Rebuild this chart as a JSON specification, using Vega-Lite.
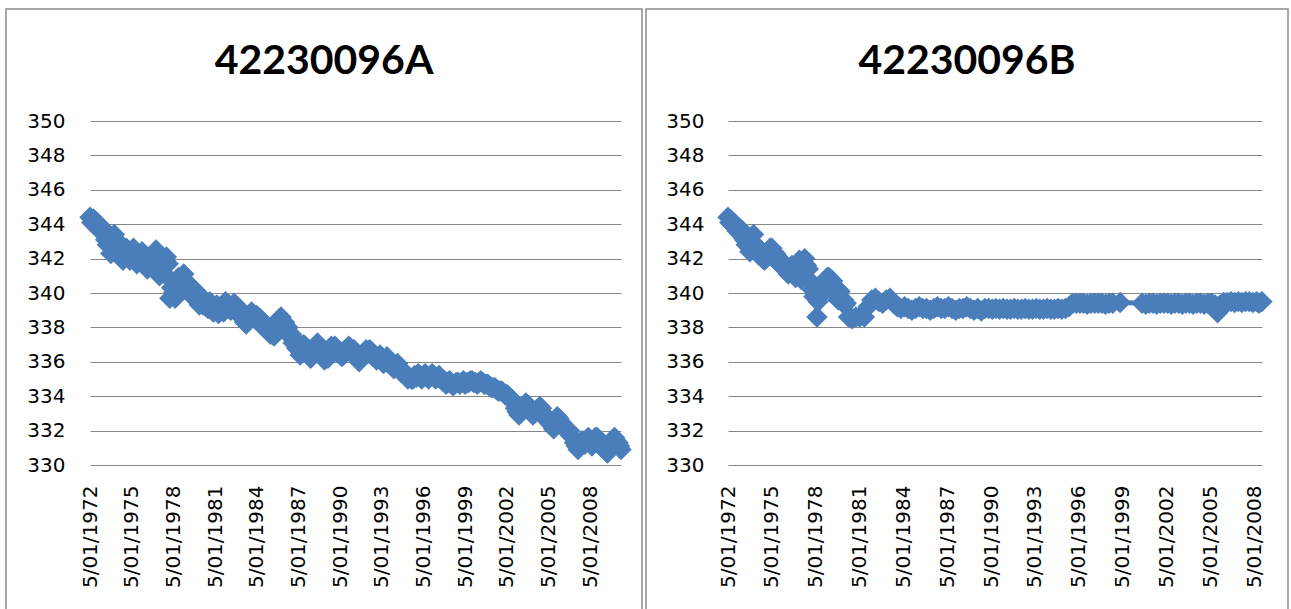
{
  "$schema": "https://vega.github.io/schema/vega-lite/v6.json",
  "padding": {"left": 5, "top": 8, "right": 0, "bottom": 0},
  "background": "white",
  "spacing": 2,
  "config": {
    "view": {"stroke": "#8c8c8c", "strokeWidth": 1.5},
    "axis": {"gridColor": "#878787", "gridWidth": 1.2, "gridOpacity": 1, "domain": false, "ticks": false, "tickSize": 0, "labelColor": "#000000", "labelFont": "DejaVu Sans", "labelFontSize": 20, "title": null, "labelOverlap": false, "labelFlush": false, "labelBound": false}
  },
  "datasets": {
    "a": [
      {"date":"1972-01-05","level":344.4},{"date":"1972-02-20","level":344.1},{"date":"1972-04-05","level":344.3},{"date":"1972-05-20","level":344.0},
      {"date":"1972-07-05","level":344.1},{"date":"1972-08-20","level":343.7},{"date":"1972-10-05","level":343.9},{"date":"1972-11-20","level":343.5},
      {"date":"1973-01-05","level":343.7},{"date":"1973-02-20","level":343.1},{"date":"1973-04-05","level":342.8},{"date":"1973-05-20","level":343.2},
      {"date":"1973-07-05","level":342.3},{"date":"1973-08-20","level":342.9},{"date":"1973-10-05","level":343.4},{"date":"1973-11-20","level":342.7},
      {"date":"1974-01-05","level":342.6},{"date":"1974-02-20","level":342.9},{"date":"1974-04-05","level":342.3},{"date":"1974-05-20","level":341.9},
      {"date":"1974-07-05","level":342.1},{"date":"1974-08-20","level":342.6},{"date":"1974-10-05","level":342.4},{"date":"1974-11-20","level":341.9},
      {"date":"1975-01-05","level":342.3},{"date":"1975-02-20","level":342.6},{"date":"1975-04-05","level":342.0},{"date":"1975-05-20","level":341.7},
      {"date":"1975-07-05","level":341.9},{"date":"1975-08-20","level":342.3},{"date":"1975-10-05","level":342.4},{"date":"1975-11-20","level":341.8},
      {"date":"1976-01-05","level":341.9},{"date":"1976-02-20","level":341.4},{"date":"1976-04-05","level":341.6},{"date":"1976-05-20","level":342.0},
      {"date":"1976-07-05","level":341.9},{"date":"1976-08-20","level":342.3},{"date":"1976-10-05","level":342.5},{"date":"1976-11-20","level":341.6},
      {"date":"1977-01-05","level":341.0},{"date":"1977-02-20","level":341.2},{"date":"1977-04-05","level":341.6},{"date":"1977-05-20","level":341.1},
      {"date":"1977-07-05","level":342.1},{"date":"1977-08-20","level":341.7},{"date":"1977-10-05","level":339.7},{"date":"1977-11-20","level":340.3},
      {"date":"1978-01-05","level":340.0},{"date":"1978-02-20","level":339.7},{"date":"1978-04-05","level":340.3},{"date":"1978-05-20","level":340.9},
      {"date":"1978-07-05","level":340.8},{"date":"1978-08-20","level":340.2},{"date":"1978-10-05","level":341.1},{"date":"1978-11-20","level":340.7},
      {"date":"1979-01-05","level":340.6},{"date":"1979-02-20","level":340.1},{"date":"1979-04-05","level":340.4},{"date":"1979-05-20","level":339.8},
      {"date":"1979-07-05","level":339.8},{"date":"1979-08-20","level":340.1},{"date":"1979-10-05","level":339.5},{"date":"1979-11-20","level":339.3},
      {"date":"1980-01-05","level":339.8},{"date":"1980-02-20","level":339.3},{"date":"1980-04-05","level":339.5},{"date":"1980-05-20","level":339.2},
      {"date":"1980-07-05","level":339.1},{"date":"1980-08-20","level":339.5},{"date":"1980-10-05","level":339.3},{"date":"1980-11-20","level":338.9},
      {"date":"1981-01-05","level":339.0},{"date":"1981-02-20","level":339.3},{"date":"1981-04-05","level":338.8},{"date":"1981-05-20","level":339.0},
      {"date":"1981-07-05","level":339.2},{"date":"1981-08-20","level":338.9},{"date":"1981-10-05","level":339.5},{"date":"1981-11-20","level":339.2},
      {"date":"1982-01-05","level":339.3},{"date":"1982-02-20","level":339.0},{"date":"1982-04-05","level":339.2},{"date":"1982-05-20","level":339.4},
      {"date":"1982-07-05","level":339.0},{"date":"1982-08-20","level":338.8},{"date":"1982-10-05","level":339.1},{"date":"1982-11-20","level":338.9},
      {"date":"1983-01-05","level":338.6},{"date":"1983-02-20","level":338.3},{"date":"1983-04-05","level":338.2},{"date":"1983-05-20","level":338.5},
      {"date":"1983-07-05","level":338.6},{"date":"1983-08-20","level":338.9},{"date":"1983-10-05","level":338.8},{"date":"1983-11-20","level":338.5},
      {"date":"1984-01-05","level":338.7},{"date":"1984-02-20","level":338.4},{"date":"1984-04-05","level":338.5},{"date":"1984-05-20","level":338.1},
      {"date":"1984-07-05","level":338.3},{"date":"1984-08-20","level":337.9},{"date":"1984-10-05","level":338.0},{"date":"1984-11-20","level":337.7},
      {"date":"1985-01-05","level":337.6},{"date":"1985-02-20","level":337.9},{"date":"1985-04-05","level":337.5},{"date":"1985-05-20","level":337.9},
      {"date":"1985-07-05","level":338.2},{"date":"1985-08-20","level":338.5},{"date":"1985-10-05","level":338.6},{"date":"1985-11-20","level":338.1},
      {"date":"1986-01-05","level":338.3},{"date":"1986-02-20","level":337.9},{"date":"1986-04-05","level":338.0},{"date":"1986-05-20","level":337.5},
      {"date":"1986-07-05","level":337.6},{"date":"1986-08-20","level":337.1},{"date":"1986-10-05","level":337.3},{"date":"1986-11-20","level":336.8},
      {"date":"1987-01-05","level":336.7},{"date":"1987-02-20","level":336.4},{"date":"1987-04-05","level":336.6},{"date":"1987-05-20","level":337.0},
      {"date":"1987-07-05","level":336.9},{"date":"1987-08-20","level":336.5},{"date":"1987-10-05","level":336.7},{"date":"1987-11-20","level":336.2},
      {"date":"1988-01-05","level":336.3},{"date":"1988-02-20","level":336.6},{"date":"1988-04-05","level":336.9},{"date":"1988-05-20","level":337.1},
      {"date":"1988-07-05","level":336.8},{"date":"1988-08-20","level":336.4},{"date":"1988-10-05","level":336.5},{"date":"1988-11-20","level":336.1},
      {"date":"1989-01-05","level":336.3},{"date":"1989-02-20","level":336.2},{"date":"1989-04-05","level":336.5},{"date":"1989-05-20","level":336.9},
      {"date":"1989-07-05","level":336.7},{"date":"1989-08-20","level":336.9},{"date":"1989-10-05","level":336.8},{"date":"1989-11-20","level":336.5},
      {"date":"1990-01-05","level":336.6},{"date":"1990-02-20","level":336.3},{"date":"1990-04-05","level":336.4},{"date":"1990-05-20","level":336.7},
      {"date":"1990-07-05","level":336.7},{"date":"1990-08-20","level":336.9},{"date":"1990-10-05","level":336.8},{"date":"1990-11-20","level":336.5},
      {"date":"1991-01-05","level":336.7},{"date":"1991-02-20","level":336.5},{"date":"1991-04-05","level":336.3},{"date":"1991-05-20","level":336.0},
      {"date":"1991-07-05","level":336.2},{"date":"1991-08-20","level":336.4},{"date":"1991-10-05","level":336.4},{"date":"1991-11-20","level":336.7},
      {"date":"1992-01-05","level":336.5},{"date":"1992-02-20","level":336.7},{"date":"1992-04-05","level":336.6},{"date":"1992-05-20","level":336.3},
      {"date":"1992-07-05","level":336.4},{"date":"1992-08-20","level":336.1},{"date":"1992-10-05","level":336.3},{"date":"1992-11-20","level":336.4},
      {"date":"1993-01-05","level":336.2},{"date":"1993-02-20","level":335.9},{"date":"1993-04-05","level":336.1},{"date":"1993-05-20","level":336.3},
      {"date":"1993-07-05","level":336.0},{"date":"1993-08-20","level":335.8},{"date":"1993-10-05","level":335.9},{"date":"1993-11-20","level":335.6},
      {"date":"1994-01-05","level":335.8},{"date":"1994-02-20","level":335.9},{"date":"1994-04-05","level":335.7},{"date":"1994-05-20","level":335.4},
      {"date":"1994-07-05","level":335.5},{"date":"1994-08-20","level":335.3},{"date":"1994-10-05","level":335.2},{"date":"1994-11-20","level":335.0},
      {"date":"1995-01-05","level":335.1},{"date":"1995-02-20","level":335.0},{"date":"1995-04-05","level":335.0},{"date":"1995-05-20","level":335.2},
      {"date":"1995-07-05","level":335.1},{"date":"1995-08-20","level":335.3},{"date":"1995-10-05","level":335.2},{"date":"1995-11-20","level":335.0},
      {"date":"1996-01-05","level":335.2},{"date":"1996-02-20","level":335.3},{"date":"1996-04-05","level":335.1},{"date":"1996-05-20","level":335.0},
      {"date":"1996-07-05","level":335.2},{"date":"1996-08-20","level":335.3},{"date":"1996-10-05","level":335.2},{"date":"1996-11-20","level":335.0},
      {"date":"1997-01-05","level":335.1},{"date":"1997-02-20","level":335.2},{"date":"1997-04-05","level":335.0},{"date":"1997-05-20","level":334.9},
      {"date":"1997-07-05","level":334.9},{"date":"1997-08-20","level":334.7},{"date":"1997-10-05","level":334.8},{"date":"1997-11-20","level":334.9},
      {"date":"1998-01-05","level":334.8},{"date":"1998-02-20","level":334.6},{"date":"1998-04-05","level":334.7},{"date":"1998-05-20","level":334.8},
      {"date":"1998-07-05","level":334.8},{"date":"1998-08-20","level":334.7},{"date":"1998-10-05","level":334.8},{"date":"1998-11-20","level":334.9},
      {"date":"1999-01-05","level":334.7},{"date":"1999-02-20","level":334.8},{"date":"1999-04-05","level":334.8},{"date":"1999-05-20","level":334.9},
      {"date":"1999-07-05","level":334.9},{"date":"1999-08-20","level":334.8},{"date":"1999-10-05","level":334.8},{"date":"1999-11-20","level":334.7},
      {"date":"2000-01-05","level":334.8},{"date":"2000-02-20","level":334.9},{"date":"2000-04-05","level":334.8},{"date":"2000-05-20","level":334.7},
      {"date":"2000-07-05","level":334.7},{"date":"2000-08-20","level":334.7},{"date":"2000-10-05","level":334.6},{"date":"2000-11-20","level":334.5},
      {"date":"2001-01-05","level":334.5},{"date":"2001-02-20","level":334.5},{"date":"2001-04-05","level":334.4},{"date":"2001-05-20","level":334.3},
      {"date":"2001-07-05","level":334.3},{"date":"2001-08-20","level":334.3},{"date":"2001-10-05","level":334.2},{"date":"2001-11-20","level":334.1},
      {"date":"2002-01-05","level":334.1},{"date":"2002-02-20","level":334.0},{"date":"2002-04-05","level":333.9},{"date":"2002-05-20","level":333.8},
      {"date":"2002-07-05","level":333.6},{"date":"2002-08-20","level":333.3},{"date":"2002-10-05","level":333.1},{"date":"2002-11-20","level":332.9},
      {"date":"2003-01-05","level":333.0},{"date":"2003-02-20","level":333.3},{"date":"2003-04-05","level":333.4},{"date":"2003-05-20","level":333.6},
      {"date":"2003-07-05","level":333.5},{"date":"2003-08-20","level":333.2},{"date":"2003-10-05","level":333.2},{"date":"2003-11-20","level":332.9},
      {"date":"2004-01-05","level":333.0},{"date":"2004-02-20","level":333.2},{"date":"2004-04-05","level":333.2},{"date":"2004-05-20","level":333.4},
      {"date":"2004-07-05","level":333.3},{"date":"2004-08-20","level":332.9},{"date":"2004-10-05","level":332.9},{"date":"2004-11-20","level":332.6},
      {"date":"2005-01-05","level":332.6},{"date":"2005-02-20","level":332.4},{"date":"2005-04-05","level":332.3},{"date":"2005-05-20","level":332.1},
      {"date":"2005-07-05","level":332.5},{"date":"2005-08-20","level":332.8},{"date":"2005-10-05","level":332.7},{"date":"2005-11-20","level":332.5},
      {"date":"2006-01-05","level":332.4},{"date":"2006-02-20","level":332.2},{"date":"2006-04-05","level":332.1},{"date":"2006-05-20","level":331.9},
      {"date":"2006-07-05","level":332.0},{"date":"2006-08-20","level":331.7},{"date":"2006-10-05","level":331.6},{"date":"2006-11-20","level":331.3},
      {"date":"2007-01-05","level":331.1},{"date":"2007-02-20","level":330.9},{"date":"2007-04-05","level":331.2},{"date":"2007-05-20","level":331.4},
      {"date":"2007-07-05","level":331.4},{"date":"2007-08-20","level":331.2},{"date":"2007-10-05","level":331.5},{"date":"2007-11-20","level":331.6},
      {"date":"2008-01-05","level":331.3},{"date":"2008-02-20","level":331.1},{"date":"2008-04-05","level":331.4},{"date":"2008-05-20","level":331.6},
      {"date":"2008-07-05","level":331.6},{"date":"2008-08-20","level":331.3},{"date":"2008-10-05","level":331.4},{"date":"2008-11-20","level":331.0},
      {"date":"2009-01-05","level":331.1},{"date":"2009-02-20","level":330.8},{"date":"2009-04-05","level":330.7},{"date":"2009-05-20","level":331.0},
      {"date":"2009-07-05","level":331.2},{"date":"2009-08-20","level":331.5},{"date":"2009-10-05","level":331.6},{"date":"2009-11-20","level":331.4},
      {"date":"2010-01-05","level":331.3},{"date":"2010-02-15","level":331.1},{"date":"2010-03-25","level":330.9}
    ],
    "b": [
      {"date":"1972-01-05","level":344.4},{"date":"1972-02-20","level":344.1},{"date":"1972-04-05","level":344.2},{"date":"1972-05-20","level":343.9},
      {"date":"1972-07-05","level":344.0},{"date":"1972-08-20","level":343.6},{"date":"1972-10-05","level":343.8},{"date":"1972-11-20","level":343.4},
      {"date":"1973-01-05","level":343.6},{"date":"1973-02-20","level":343.1},{"date":"1973-04-05","level":342.8},{"date":"1973-05-20","level":343.2},
      {"date":"1973-07-05","level":342.4},{"date":"1973-08-20","level":342.9},{"date":"1973-10-05","level":343.4},{"date":"1973-11-20","level":342.8},
      {"date":"1974-01-05","level":342.7},{"date":"1974-02-20","level":342.2},{"date":"1974-04-05","level":342.4},{"date":"1974-05-20","level":342.0},
      {"date":"1974-07-05","level":341.9},{"date":"1974-08-20","level":342.3},{"date":"1974-10-05","level":342.2},{"date":"1974-11-20","level":342.6},
      {"date":"1975-01-05","level":342.6},{"date":"1975-02-20","level":342.1},{"date":"1975-04-05","level":342.3},{"date":"1975-05-20","level":341.8},
      {"date":"1975-07-05","level":342.0},{"date":"1975-08-20","level":341.6},{"date":"1975-10-05","level":341.8},{"date":"1975-11-20","level":341.4},
      {"date":"1976-01-05","level":341.5},{"date":"1976-02-20","level":341.1},{"date":"1976-04-05","level":341.3},{"date":"1976-05-20","level":341.6},
      {"date":"1976-07-05","level":341.2},{"date":"1976-08-20","level":340.9},{"date":"1976-10-05","level":341.5},{"date":"1976-11-20","level":341.9},
      {"date":"1977-01-05","level":340.8},{"date":"1977-02-20","level":341.3},{"date":"1977-04-05","level":342.0},{"date":"1977-05-20","level":341.6},
      {"date":"1977-07-05","level":341.4},{"date":"1977-08-20","level":340.7},{"date":"1977-10-05","level":340.2},{"date":"1977-11-20","level":339.8},
      {"date":"1978-01-05","level":340.0},{"date":"1978-02-05","level":338.6},{"date":"1978-03-05","level":339.5},{"date":"1978-04-20","level":340.2},
      {"date":"1978-06-05","level":339.9},{"date":"1978-07-20","level":340.6},{"date":"1978-09-05","level":340.4},{"date":"1978-10-20","level":340.9},
      {"date":"1978-12-05","level":340.9},{"date":"1979-01-20","level":340.4},{"date":"1979-03-05","level":340.7},{"date":"1979-04-20","level":340.0},
      {"date":"1979-06-05","level":340.2},{"date":"1979-07-20","level":339.6},{"date":"1979-09-05","level":340.1},{"date":"1979-10-20","level":339.5},
      {"date":"1979-12-05","level":339.6},{"date":"1980-01-05","level":339.3},{"date":"1980-02-05","level":339.4},{"date":"1980-04-05","level":338.6},
      {"date":"1980-07-05","level":338.5},{"date":"1980-10-05","level":338.6},{"date":"1981-01-05","level":338.6},{"date":"1981-05-05","level":338.6},
      {"date":"1981-08-05","level":339.2},{"date":"1981-11-05","level":339.6},{"date":"1982-02-05","level":339.7},{"date":"1982-05-05","level":339.5},
      {"date":"1982-08-05","level":339.4},{"date":"1982-11-05","level":339.6},{"date":"1983-02-05","level":339.7},{"date":"1983-05-05","level":339.4},
      {"date":"1983-08-05","level":339.2},{"date":"1983-11-05","level":339.1},{"date":"1984-02-05","level":339.2},{"date":"1984-05-05","level":339.1},
      {"date":"1984-08-05","level":339.0},{"date":"1984-11-05","level":339.1},{"date":"1985-02-05","level":339.2},{"date":"1985-05-05","level":339.1},
      {"date":"1985-08-05","level":339.1},{"date":"1985-11-05","level":339.0},{"date":"1986-02-05","level":339.1},{"date":"1986-05-05","level":339.2},
      {"date":"1986-08-05","level":339.1},{"date":"1986-11-05","level":339.1},{"date":"1987-02-05","level":339.2},{"date":"1987-05-05","level":339.1},
      {"date":"1987-08-05","level":339.0},{"date":"1987-11-05","level":339.1},{"date":"1988-02-05","level":339.1},{"date":"1988-05-05","level":339.2},
      {"date":"1988-08-05","level":339.1},{"date":"1988-11-05","level":339.0},{"date":"1989-02-05","level":339.1},{"date":"1989-05-05","level":338.95},
      {"date":"1989-08-05","level":339.1},{"date":"1989-11-05","level":339.1},{"date":"1990-02-05","level":339.05},{"date":"1990-05-05","level":339.1},
      {"date":"1990-08-05","level":339.05},{"date":"1990-11-05","level":339.1},{"date":"1991-02-05","level":339.05},{"date":"1991-05-05","level":339.05},
      {"date":"1991-08-05","level":339.1},{"date":"1991-11-05","level":339.05},{"date":"1992-02-05","level":339.05},{"date":"1992-05-05","level":339.1},
      {"date":"1992-08-05","level":339.05},{"date":"1992-11-05","level":339.05},{"date":"1993-02-05","level":339.1},{"date":"1993-05-05","level":339.05},
      {"date":"1993-08-05","level":339.05},{"date":"1993-11-05","level":339.1},{"date":"1994-02-05","level":339.05},{"date":"1994-05-05","level":339.05},
      {"date":"1994-08-05","level":339.1},{"date":"1994-11-05","level":339.05},{"date":"1995-02-05","level":339.1},{"date":"1995-05-05","level":339.2},
      {"date":"1995-08-05","level":339.4},{"date":"1995-11-05","level":339.4},{"date":"1996-02-05","level":339.4},{"date":"1996-05-05","level":339.4},
      {"date":"1996-08-05","level":339.35},{"date":"1996-11-05","level":339.4},{"date":"1997-02-05","level":339.4},{"date":"1997-05-05","level":339.4},
      {"date":"1997-08-05","level":339.4},{"date":"1997-11-05","level":339.35},{"date":"1998-02-05","level":339.4},{"date":"1998-05-05","level":339.4},
      {"date":"1998-11-05","level":339.45},{"date":"2000-05-05","level":339.4},{"date":"2000-08-05","level":339.35},{"date":"2000-11-05","level":339.4},
      {"date":"2001-02-05","level":339.4},{"date":"2001-05-05","level":339.35},{"date":"2001-08-05","level":339.4},{"date":"2001-11-05","level":339.4},
      {"date":"2002-02-05","level":339.4},{"date":"2002-05-05","level":339.35},{"date":"2002-08-05","level":339.4},{"date":"2002-11-05","level":339.4},
      {"date":"2003-02-05","level":339.35},{"date":"2003-05-05","level":339.4},{"date":"2003-08-05","level":339.4},{"date":"2003-11-05","level":339.35},
      {"date":"2004-02-05","level":339.4},{"date":"2004-05-05","level":339.4},{"date":"2004-08-05","level":339.35},{"date":"2004-11-05","level":339.4},
      {"date":"2005-02-05","level":339.4},{"date":"2005-05-05","level":339.3},{"date":"2005-07-05","level":338.85},{"date":"2005-09-05","level":339.3},
      {"date":"2005-12-05","level":339.45},{"date":"2006-03-05","level":339.45},{"date":"2006-06-05","level":339.5},{"date":"2006-09-05","level":339.45},
      {"date":"2006-12-05","level":339.5},{"date":"2007-03-05","level":339.45},{"date":"2007-06-05","level":339.5},{"date":"2007-09-05","level":339.5},
      {"date":"2007-12-05","level":339.45},{"date":"2008-03-05","level":339.5},{"date":"2008-05-05","level":339.4},{"date":"2008-07-20","level":339.5}
    ]
  },
  "hconcat": [
    {
      "width": 636,
      "height": 640,
      "title": {"text": "42230096A", "font": "Lato", "fontWeight": "bold", "fontSize": 41, "color": "#000000", "anchor": "middle", "frame": "group", "offset": -106, "baseline": "alphabetic"},
      "data": {"name": "a"},
      "mark": {"type": "line", "color": "#4A7EBB", "strokeWidth": 5, "point": {"filled": true, "shape": "diamond", "size": 460, "color": "#4A7EBB", "opacity": 1}},
      "encoding": {
        "x": {"field": "date", "type": "temporal",
          "scale": {"type": "utc", "nice": false, "range": [84, 615]},
          "axis": {"offset": -184, "labelAngle": -90, "labelPadding": 20, "format": "%-d/%m/%Y", "grid": false,
            "values": [{"year":1972,"month":1,"date":5,"utc":true},{"year":1975,"month":1,"date":5,"utc":true},{"year":1978,"month":1,"date":5,"utc":true},{"year":1981,"month":1,"date":5,"utc":true},{"year":1984,"month":1,"date":5,"utc":true},{"year":1987,"month":1,"date":5,"utc":true},{"year":1990,"month":1,"date":5,"utc":true},{"year":1993,"month":1,"date":5,"utc":true},{"year":1996,"month":1,"date":5,"utc":true},{"year":1999,"month":1,"date":5,"utc":true},{"year":2002,"month":1,"date":5,"utc":true},{"year":2005,"month":1,"date":5,"utc":true},{"year":2008,"month":1,"date":5,"utc":true}]}},
        "y": {"field": "level", "type": "quantitative",
          "scale": {"domain": [330, 350], "nice": false, "zero": false, "range": [456, 112]},
          "axis": {"offset": -84, "labelPadding": 25, "grid": true, "values": [330,332,334,336,338,340,342,344,346,348,350]}}
      }
    },
    {
      "width": 642,
      "height": 640,
      "title": {"text": "42230096B", "font": "Lato", "fontWeight": "bold", "fontSize": 41, "color": "#000000", "anchor": "middle", "frame": "group", "offset": -106, "baseline": "alphabetic"},
      "data": {"name": "b"},
      "mark": {"type": "line", "color": "#4A7EBB", "strokeWidth": 5, "point": {"filled": true, "shape": "diamond", "size": 460, "color": "#4A7EBB", "opacity": 1}},
      "encoding": {
        "x": {"field": "date", "type": "temporal",
          "scale": {"type": "utc", "nice": false, "range": [82, 616]},
          "axis": {"offset": -184, "labelAngle": -90, "labelPadding": 20, "format": "%-d/%m/%Y", "grid": false,
            "values": [{"year":1972,"month":1,"date":5,"utc":true},{"year":1975,"month":1,"date":5,"utc":true},{"year":1978,"month":1,"date":5,"utc":true},{"year":1981,"month":1,"date":5,"utc":true},{"year":1984,"month":1,"date":5,"utc":true},{"year":1987,"month":1,"date":5,"utc":true},{"year":1990,"month":1,"date":5,"utc":true},{"year":1993,"month":1,"date":5,"utc":true},{"year":1996,"month":1,"date":5,"utc":true},{"year":1999,"month":1,"date":5,"utc":true},{"year":2002,"month":1,"date":5,"utc":true},{"year":2005,"month":1,"date":5,"utc":true},{"year":2008,"month":1,"date":5,"utc":true}]}},
        "y": {"field": "level", "type": "quantitative",
          "scale": {"domain": [330, 350], "nice": false, "zero": false, "range": [456, 112]},
          "axis": {"offset": -82, "labelPadding": 24, "grid": true, "values": [330,332,334,336,338,340,342,344,346,348,350]}}
      }
    }
  ]
}
